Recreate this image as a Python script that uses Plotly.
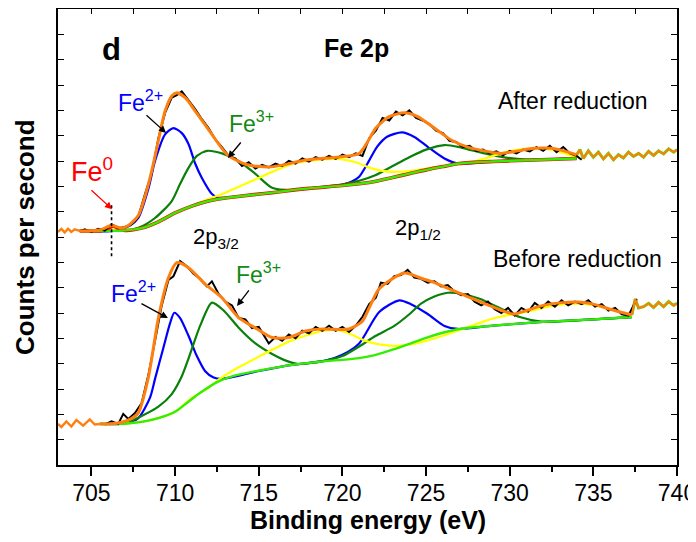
import plotly.graph_objects as go

# ---------------- axis settings ----------------
X_RANGE = [703, 740]
Y_RANGE = [0, 18]
X_TICKS = [705, 710, 715, 720, 725, 730, 735, 740]
X_TICK_LABELS = ["705", "710", "715", "720", "725", "730", "735", "740"]

# ================= After reduction (upper spectrum) =================
A_tailL_x = [703.0, 703.2, 703.4, 703.6, 703.8, 704.0, 704.3]
A_tailL_y = [9.20, 9.32, 9.18, 9.33, 9.20, 9.30, 9.24]
A_tailR_x = [734.0, 734.2, 734.4, 734.7, 735.0, 735.3, 735.6, 735.9, 736.2, 736.5, 736.8, 737.1,
             737.4, 737.7, 738.0, 738.3, 738.6, 738.9, 739.2, 739.5, 739.8, 740.0]
A_tailR_y = [12.24, 12.45, 12.10, 12.40, 12.15, 12.35, 12.08, 12.30, 12.05, 12.25, 12.12, 12.35,
             12.18, 12.30, 12.15, 12.38, 12.22, 12.40, 12.28, 12.48, 12.35, 12.45]

A_bg_x = [704.3, 706.0, 707.0, 708.0, 709.0, 710.0, 711.0, 712.0, 712.6, 714.0, 715.8, 717.0,
          718.0, 720.0, 721.6, 723.0, 724.0, 725.0, 726.0, 727.0, 729.0, 731.0, 734.0]
A_bg_y = [9.24, 9.24, 9.26, 9.35, 9.60, 9.95, 10.22, 10.42, 10.50, 10.62, 10.75, 10.85,
          10.92, 11.03, 11.15, 11.35, 11.50, 11.65, 11.78, 11.90, 11.98, 12.03, 12.10]

A_fe0_x = [704.3, 705.6, 706.0, 706.3, 706.6, 707.0, 708.0, 709.0, 710.0, 711.0, 712.0, 712.6,
           714.0, 715.8, 717.0, 718.0, 720.0, 721.6, 723.0, 724.0, 725.0, 726.0, 727.0, 729.0,
           731.0, 734.0]
A_fe0_y = [9.24, 9.25, 9.34, 9.43, 9.34, 9.26, 9.35, 9.60, 9.95, 10.22, 10.42, 10.50,
           10.62, 10.75, 10.85, 10.92, 11.03, 11.15, 11.35, 11.50, 11.65, 11.78, 11.90, 11.98,
           12.03, 12.10]

A_fe2_x = [704.3, 706.5, 707.3, 707.8, 708.4, 708.8, 709.4, 709.9, 710.4, 710.8, 711.2, 711.6,
           712.2, 712.6, 714.0, 716.0, 718.0, 719.5, 720.2, 720.6, 721.0, 721.5, 722.07, 722.67,
           723.56, 724.3, 725.1, 726.1, 726.9, 729.0, 731.0, 734.0]
A_fe2_y = [9.24, 9.25, 9.45, 9.75, 10.90, 12.00, 13.05, 13.30, 13.10, 12.67, 11.90, 11.33,
           10.70, 10.55, 10.62, 10.77, 10.92, 11.00, 11.10, 11.20, 11.38, 11.90, 12.56, 12.96,
           13.13, 12.95, 12.56, 12.10, 11.90, 11.98, 12.03, 12.10]

A_fe3_x = [704.3, 707.0, 707.8, 708.8, 709.8, 710.3, 710.8, 711.3, 711.9, 712.8, 713.8, 714.8,
           715.8, 717.0, 718.5, 720.0, 721.0, 722.0, 723.0, 724.0, 725.0, 726.1, 727.0, 727.7,
           728.5, 729.5, 731.0, 734.0]
A_fe3_y = [9.24, 9.26, 9.36, 9.75, 10.42, 11.10, 11.73, 12.20, 12.40, 12.30, 12.00, 11.49,
           10.94, 10.85, 10.96, 11.08, 11.22, 11.45, 11.80, 12.15, 12.45, 12.63, 12.55, 12.43,
           12.30, 12.16, 12.06, 12.10]

A_sat_x = [704.3, 708.0, 710.0, 711.0, 712.0, 713.0, 713.9, 715.0, 715.9, 717.0, 718.0, 719.0,
           719.8, 720.8, 721.6, 722.3, 723.1, 724.0, 725.0, 726.0, 727.2, 728.5, 729.5, 730.5,
           731.6, 732.5, 733.3, 734.0]
A_sat_y = [9.24, 9.35, 9.95, 10.22, 10.50, 10.75, 11.01, 11.33, 11.60, 11.88, 12.00, 12.07,
           12.08, 11.95, 11.74, 11.62, 11.57, 11.60, 11.70, 11.80, 11.90, 12.10, 12.30, 12.45,
           12.50, 12.45, 12.30, 12.15]

A_fit_x = [704.3, 705.5, 706.2, 706.8, 707.2, 707.8, 708.2, 708.6, 709.0, 709.4, 709.8, 710.1,
           710.6, 711.2, 712.2, 713.1, 714.2, 715.6, 716.5, 717.8, 719.8, 721.0, 721.5, 722.0,
           722.8, 723.7, 724.5, 725.5, 726.5, 727.5, 728.8, 729.5, 730.5, 731.5, 732.5, 733.5,
           734.0]
A_fit_y = [9.24, 9.28, 9.45, 9.35, 9.45, 9.85, 10.60, 11.60, 12.80, 13.97, 14.57, 14.69,
           14.50, 13.97, 13.05, 12.26, 11.87, 11.76, 11.85, 12.04, 12.16, 12.30, 12.75, 13.30,
           13.75, 13.90, 13.75, 13.30, 12.83, 12.55, 12.36, 12.30, 12.40, 12.50, 12.50, 12.35,
           12.24]

A_raw_x = [704.3, 704.6, 705.0, 705.4, 705.8, 706.2, 706.6, 707.0, 707.4, 707.8, 708.2, 708.6,
           709.0, 709.4, 709.8, 710.1, 710.4, 710.8, 711.2, 711.6, 712.0, 712.4, 712.8, 713.2,
           713.6, 714.0, 714.4, 714.8, 715.2, 715.6, 716.0, 716.4, 716.8, 717.2, 717.6, 718.0,
           718.4, 718.8, 719.2, 719.6, 720.0, 720.4, 720.8, 721.2, 721.6, 722.0, 722.4, 722.8,
           723.2, 723.6, 724.0, 724.4, 724.8, 725.2, 725.6, 726.0, 726.4, 726.8, 727.2, 727.6,
           728.0, 728.4, 728.8, 729.2, 729.6, 730.0, 730.4, 730.8, 731.2, 731.6, 732.0, 732.4,
           732.8, 733.2, 733.6, 734.0, 734.3]
A_raw_y = [9.22, 9.30, 9.20, 9.32, 9.25, 9.50, 9.35, 9.40, 9.50, 9.80, 10.70, 11.50,
           12.90, 13.90, 14.50, 14.60, 14.75, 14.40, 14.05, 13.65, 13.30, 12.85, 12.55, 12.20,
           12.10, 11.80, 11.95, 11.70, 11.85, 11.75, 11.90, 11.80, 12.00, 11.90, 12.10, 11.98,
           12.15, 12.05, 12.20, 12.08, 12.25, 12.15, 12.30, 12.20, 12.90, 13.20, 13.70, 13.60,
           13.95, 13.80, 14.00, 13.70, 13.60, 13.45, 13.20, 13.10, 12.80, 12.75, 12.55, 12.60,
           12.40, 12.45, 12.30, 12.38, 12.22, 12.40, 12.30, 12.45, 12.38, 12.55, 12.40, 12.60,
           12.35, 12.55, 12.30, 12.20, 12.05]

# ================= Before reduction (lower spectrum) =================
B_tailL_x = [703.0, 703.2, 703.5, 703.8, 704.1, 704.5, 704.9, 705.2, 705.5]
B_tailL_y = [1.62, 1.50, 1.72, 1.52, 1.78, 1.55, 1.80, 1.60, 1.62]
B_tailR_x = [737.3, 737.5, 737.7, 738.0, 738.3, 738.6, 738.9, 739.2, 739.5, 739.8, 740.0]
B_tailR_y = [5.92, 6.55, 6.20, 6.25, 6.38, 6.22, 6.42, 6.25, 6.45, 6.30, 6.38]

B_bg_x = [705.5, 707.0, 708.0, 709.0, 710.0, 710.8, 711.5, 712.6, 713.5, 714.9, 717.0, 719.0,
          720.0, 721.0, 722.0, 723.0, 724.0, 725.0, 726.0, 727.0, 729.0, 732.0, 735.0, 737.3]
B_bg_y = [1.62, 1.63, 1.70, 1.85, 2.10, 2.50, 2.85, 3.30, 3.52, 3.71, 3.95, 4.10,
          4.15, 4.22, 4.35, 4.55, 4.78, 5.02, 5.22, 5.37, 5.50, 5.65, 5.75, 5.84]

B_fe2_x = [705.5, 707.0, 707.8, 708.5, 708.8, 709.3, 709.7, 709.95, 710.3, 710.8, 711.3, 711.8,
           712.3, 712.8, 715.0, 717.0, 719.0, 720.0, 721.0, 722.2, 723.4, 724.1, 725.1, 726.1,
           726.9, 729.0, 732.0, 735.0, 737.3]
B_fe2_y = [1.62, 1.64, 1.85, 2.66, 3.40, 4.63, 5.60, 6.01, 5.80, 5.10, 4.30, 3.70,
           3.45, 3.40, 3.71, 3.95, 4.12, 4.35, 4.80, 6.04, 6.50, 6.35, 5.96, 5.49,
           5.37, 5.50, 5.65, 5.75, 5.84]

B_fe3_x = [705.5, 707.0, 707.8, 709.0, 709.8, 710.4, 710.8, 711.5, 712.2, 712.9, 713.8, 714.8,
           715.8, 716.5, 717.3, 718.0, 719.0, 720.0, 721.0, 722.0, 723.1, 724.0, 724.7, 725.5,
           726.3, 727.2, 728.2, 729.4, 730.6, 732.0, 735.0, 737.3]
B_fe3_y = [1.62, 1.66, 1.87, 2.30, 2.80, 3.50, 4.20, 5.50, 6.41, 6.10, 5.42, 4.80,
           4.38, 4.15, 3.99, 4.02, 4.12, 4.30, 4.68, 5.10, 5.49, 5.95, 6.37, 6.65,
           6.80, 6.75, 6.56, 6.20, 5.84, 5.65, 5.75, 5.84]

B_sat_x = [705.5, 707.0, 708.0, 709.0, 710.0, 711.0, 712.0, 712.6, 713.5, 714.9, 716.9, 718.8,
           719.6, 720.3, 721.3, 722.2, 723.1, 724.0, 725.0, 726.0, 727.2, 728.5, 729.5, 730.5,
           731.5, 732.5, 733.5, 734.5, 735.5, 736.5, 737.3]
B_sat_y = [1.62, 1.63, 1.70, 1.85, 2.10, 2.65, 3.05, 3.37, 3.75, 4.24, 4.90, 5.29,
           5.33, 5.22, 4.92, 4.76, 4.70, 4.75, 4.90, 5.10, 5.37, 5.68, 5.86, 5.98,
           6.12, 6.28, 6.36, 6.36, 6.24, 6.05, 5.84]

B_fit_x = [705.5, 706.5, 707.3, 707.8, 708.4, 709.0, 709.6, 710.1, 710.8, 711.8, 712.8, 713.8,
           714.9, 715.8, 716.8, 717.8, 718.8, 720.4, 721.2, 721.6, 722.2, 723.7, 724.8, 725.5,
           726.1, 728.8, 730.2, 731.0, 732.0, 733.0, 734.1, 735.0, 736.0, 737.3]
B_fit_y = [1.62, 1.65, 1.80, 2.06, 3.45, 5.80, 7.39, 7.99, 7.79, 7.14, 6.60, 5.82,
           5.37, 5.03, 5.03, 5.29, 5.37, 5.37, 5.68, 6.20, 6.96, 7.58, 7.35, 7.20,
           7.03, 6.29, 5.96, 6.10, 6.30, 6.40, 6.43, 6.35, 6.15, 5.92]

B_raw_x = [705.8, 706.2, 706.6, 706.9, 707.2, 707.6, 708.0, 708.4, 708.8, 709.2, 709.6, 709.9,
           710.3, 710.7, 711.1, 711.5, 711.9, 712.2, 712.6, 713.0, 713.4, 713.8, 714.2, 714.6,
           715.0, 715.3, 715.6, 716.0, 716.4, 716.8, 717.2, 717.6, 718.0, 718.4, 718.8, 719.2,
           719.6, 720.0, 720.4, 720.8, 721.2, 721.6, 722.0, 722.3, 722.7, 723.1, 723.5, 723.9,
           724.3, 724.7, 725.1, 725.5, 725.9, 726.3, 726.7, 727.1, 727.5, 727.9, 728.3, 728.7,
           729.1, 729.5, 729.9, 730.3, 730.7, 731.1, 731.5, 731.9, 732.3, 732.7, 733.1, 733.5,
           733.9, 734.3, 734.7, 735.1, 735.5, 735.9, 736.3, 736.7, 737.1, 737.4, 737.6]
B_raw_y = [1.60, 1.72, 1.62, 2.02, 1.82, 2.05, 2.45, 3.55, 4.90, 6.30, 7.30, 7.45,
           8.05, 7.85, 7.55, 7.35, 7.05, 7.25, 6.75, 6.45, 6.30, 5.80, 5.75, 5.40,
           5.45, 5.10, 4.80, 5.05, 4.90, 5.15, 5.00, 5.30, 5.20, 5.45, 5.30, 5.50,
           5.30, 5.45, 5.25, 5.50, 5.85, 6.35, 6.60, 7.20, 7.15, 7.45, 7.50, 7.70,
           7.40, 7.35, 7.20, 7.25, 7.05, 7.10, 6.85, 6.70, 6.75, 6.45, 6.30, 6.45,
           6.15, 6.00, 6.20, 5.90, 6.20, 6.05, 6.40, 6.20, 6.45, 6.25, 6.50, 6.30,
           6.45, 6.35, 6.50, 6.25, 6.35, 6.10, 6.20, 5.95, 5.90, 6.30, 6.55]

# Fe0 marker line position
FE0_LINE_X = [706.2, 706.2]
FE0_LINE_Y = [10.25, 8.15]

# ---------------- colours ----------------
C_BLUE = "#0000FF"
C_DGREEN = "#0A800A"
C_YELLOW = "#FFFF00"
C_RED = "#FF0000"
C_LIME = "#33EE00"
C_ORANGE = "#FF7F0E"
C_BLACK = "#000000"

fig = go.Figure()


def add(x, y, color, width, shape="spline", dash="solid"):
    fig.add_trace(go.Scatter(
        x=x, y=y, mode="lines", showlegend=False, hoverinfo="skip",
        line=dict(color=color, width=width, shape=shape, smoothing=0.7, dash=dash)))


for S in ("A", "B"):
    d = globals()
    add(d[S + "_fe2_x"], d[S + "_fe2_y"], C_BLUE, 2.2)
    add(d[S + "_fe3_x"], d[S + "_fe3_y"], C_DGREEN, 2.2)
    add(d[S + "_sat_x"], d[S + "_sat_y"], C_YELLOW, 2.2)
    if S == "A":
        add(A_fe0_x, A_fe0_y, C_RED, 3.6)
    add(d[S + "_bg_x"], d[S + "_bg_y"], C_LIME, 2.4)
    add(d[S + "_tailR_x"], d[S + "_tailR_y"], C_LIME, 3.0, shape="linear")
    add(d[S + "_raw_x"], d[S + "_raw_y"], C_BLACK, 2.0, shape="linear")
    add(d[S + "_fit_x"], d[S + "_fit_y"], C_ORANGE, 3.0)
    add(d[S + "_tailL_x"], d[S + "_tailL_y"], C_ORANGE, 2.4, shape="linear")
    add(d[S + "_tailR_x"], d[S + "_tailR_y"], C_ORANGE, 2.2, shape="linear")

add(FE0_LINE_X, FE0_LINE_Y, C_BLACK, 1.6, shape="linear", dash="dot")

# dummy trace for the mirrored axes
fig.add_trace(go.Scatter(x=[X_RANGE[0]], y=[Y_RANGE[0]], xaxis="x2", yaxis="y2",
                         mode="markers", marker=dict(opacity=0), showlegend=False,
                         hoverinfo="skip"))

FONT = "Liberation Sans, Arial, sans-serif"

annotations = []


def label(text, x, y, size, color="black", bold=False):
    annotations.append(dict(
        x=x, y=y, xref="x", yref="y", text=("<b>%s</b>" % text) if bold else text,
        showarrow=False, font=dict(family=FONT, size=size, color=color),
        xanchor="center", yanchor="middle"))


def arrow(x0, y0, x1, y1, color="black"):
    annotations.append(dict(
        x=x1, y=y1, ax=x0, ay=y0, xref="x", yref="y", axref="x", ayref="y",
        text="", showarrow=True, arrowhead=2, arrowsize=1.1, arrowwidth=1.3,
        arrowcolor=color))


label("d", 706.17, 16.42, 31, bold=True)
label("Fe 2p", 720.87, 16.46, 25, bold=True)
label("After reduction", 733.78, 14.37, 23)
label("Before reduction", 734.08, 8.13, 23)
label("Fe<sup>2+</sup>", 707.96, 14.37, 23, C_BLUE)
label("Fe<sup>3+</sup>", 714.54, 13.54, 23, "#138A13")
label("Fe<sup>0</sup>", 705.06, 11.63, 27, C_RED)
label("2p<sub>3/2</sub>", 712.44, 8.96, 22)
label("2p<sub>1/2</sub>", 724.52, 9.30, 22)
label("Fe<sup>2+</sup>", 707.51, 6.83, 23, C_BLUE)
label("Fe<sup>3+</sup>", 715.01, 7.58, 23, "#138A13")

arrow(708.2, 13.86, 709.46, 13.11)
arrow(714.0, 12.79, 713.16, 12.12)
arrow(704.91, 10.9, 706.23, 10.1, C_RED)
arrow(707.9, 6.4, 709.57, 5.8)
arrow(714.48, 6.95, 713.7, 6.28)

# axis titles
annotations.append(dict(x=0.5008, y=-0.12, xref="paper", yref="paper",
                        text="<b>Binding energy (eV)</b>", showarrow=False,
                        font=dict(family=FONT, size=25, color="black"),
                        xanchor="center", yanchor="middle"))
annotations.append(dict(x=-0.0533, y=0.498, xref="paper", yref="paper",
                        text="<b>Counts per second</b>", showarrow=False, textangle=-90,
                        font=dict(family=FONT, size=26, color="black"),
                        xanchor="center", yanchor="middle"))

# The page adds an 8px body margin, so the figure is sized to sit inside the window.
fig.update_layout(
    width=688, height=534,
    margin=dict(l=50, r=19, t=1, b=77, autoexpand=False),
    plot_bgcolor="white", paper_bgcolor="white",
    showlegend=False,
    annotations=annotations,
    xaxis=dict(range=X_RANGE, tickmode="array", tickvals=X_TICKS, ticktext=X_TICK_LABELS,
               ticks="outside", ticklen=9, tickwidth=1.5, tickcolor="black",
               showline=True, linecolor="black", linewidth=2, mirror=True,
               showgrid=False, zeroline=False, automargin=False, ticklabeloverflow="allow",
               ticklabelstandoff=-3,
               tickfont=dict(family=FONT, size=23, color="black"),
               minor=dict(ticks="outside", ticklen=5, tickwidth=1.5, tickcolor="black",
                          tick0=702.5, dtick=2.5, showgrid=False)),
    xaxis2=dict(range=X_RANGE, overlaying="x", side="top", ticks="inside", ticklen=5,
                tickwidth=1.2, tickcolor="black", tickmode="linear", tick0=702.5, dtick=2.5,
                showticklabels=False, showline=False, showgrid=False, zeroline=False,
                automargin=False),
    yaxis=dict(range=Y_RANGE, tickmode="linear", tick0=0, dtick=1, ticks="inside",
               ticklen=6, tickwidth=1.2, tickcolor="black", showticklabels=False,
               showline=True, linecolor="black", linewidth=2, mirror=True,
               showgrid=False, zeroline=False, automargin=False),
    yaxis2=dict(range=Y_RANGE, overlaying="y", side="right", tickmode="linear", tick0=0,
                dtick=1, ticks="inside", ticklen=6, tickwidth=1.2, tickcolor="black",
                showticklabels=False, showline=False, showgrid=False, zeroline=False,
                automargin=False),
)

fig.write_html("out.html")
